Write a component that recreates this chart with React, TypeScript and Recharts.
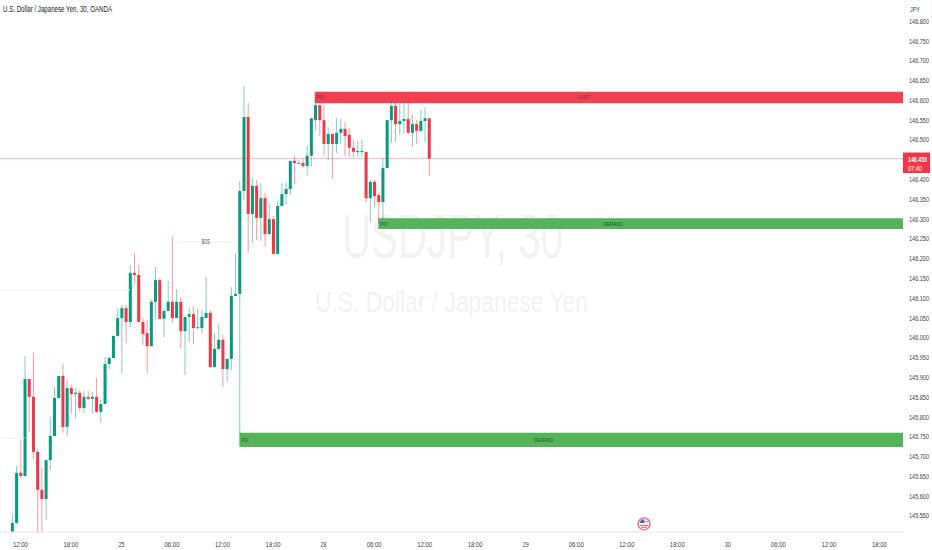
import {
  ComposedChart,
  Bar,
  XAxis,
  YAxis,
  ReferenceArea,
  ReferenceLine,
  ReferenceDot
} from 'recharts';

const FONT = '"Liberation Sans", sans-serif';
const UP = '#089981';
const DOWN = '#f23645';
const TEXT = '#3a3e49';

const opens = [
  145.499, 145.532, 145.659, 145.651, 145.896, 145.851, 145.712, 145.616, 145.593, 145.691,
  145.752, 145.848, 145.904, 145.775, 145.873, 145.858, 145.861, 145.823, 145.851, 145.846,
  145.851, 145.813, 145.833, 145.934, 145.949, 146.005, 146.050, 146.075, 146.040, 146.164,
  146.159, 146.040, 146.012, 145.979, 146.091, 146.146, 146.048, 146.068, 146.091, 146.050,
  146.091, 146.017, 146.053, 146.060, 146.025, 146.025, 146.050, 146.063, 145.926, 145.972,
  145.995, 145.921, 145.947, 146.106, 146.111, 146.371, 146.558, 146.313, 146.384, 146.303,
  146.353, 146.262, 146.300, 146.212, 146.333, 146.363, 146.376, 146.447, 146.441, 146.442,
  146.434, 146.460, 146.550, 146.588, 146.550, 146.490, 146.515, 146.490, 146.518, 146.528,
  146.513, 146.480, 146.470, 146.470, 146.470, 146.353, 146.394, 146.361, 146.343, 146.429,
  146.550, 146.586, 146.540, 146.548, 146.553, 146.518, 146.540, 146.523, 146.548, 146.555
];
const highs = [
  145.555, 145.676, 145.742, 145.954, 145.896, 145.962, 145.719, 145.671, 145.691, 145.800,
  145.876, 145.904, 145.936, 145.894, 145.881, 145.873, 145.868, 145.866, 145.866, 145.863,
  145.899, 145.843, 145.952, 145.952, 146.005, 146.075, 146.083, 146.083, 146.184, 146.214,
  146.184, 146.050, 146.045, 146.096, 146.179, 146.151, 146.075, 146.144, 146.257, 146.123,
  146.103, 146.053, 146.078, 146.080, 146.075, 146.070, 146.154, 146.070, 146.012, 146.035,
  146.007, 145.947, 146.128, 146.214, 146.396, 146.636, 146.593, 146.404, 146.399, 146.391,
  146.366, 146.341, 146.308, 146.346, 146.391, 146.394, 146.447, 146.460, 146.449, 146.452,
  146.485, 146.555, 146.601, 146.588, 146.588, 146.533, 146.515, 146.555, 146.553, 146.545,
  146.530, 146.500, 146.497, 146.500, 146.470, 146.399, 146.399, 146.366, 146.454, 146.550,
  146.601, 146.601, 146.593, 146.601, 146.601, 146.566, 146.550, 146.576, 146.583, 146.555
];
const lows = [
  145.477, 145.530, 145.646, 145.651, 145.762, 145.694, 145.489, 145.489, 145.540, 145.666,
  145.752, 145.848, 145.760, 145.752, 145.808, 145.798, 145.813, 145.810, 145.843, 145.808,
  145.810, 145.785, 145.833, 145.921, 145.949, 146.002, 145.911, 145.987, 146.027, 146.139,
  146.040, 145.982, 145.911, 145.979, 146.050, 146.048, 146.002, 146.068, 146.038, 146.050,
  145.974, 145.906, 145.990, 145.984, 146.022, 146.012, 146.050, 145.926, 145.926, 145.969,
  145.876, 145.888, 145.919, 146.106, 145.757, 146.348, 146.214, 146.240, 146.247, 146.245,
  146.230, 146.262, 146.212, 146.209, 146.333, 146.336, 146.361, 146.389, 146.439, 146.429,
  146.411, 146.434, 146.523, 146.510, 146.460, 146.449, 146.401, 146.467, 146.490, 146.460,
  146.457, 146.457, 146.457, 146.457, 146.343, 146.293, 146.331, 146.288, 146.298, 146.429,
  146.492, 146.495, 146.513, 146.515, 146.513, 146.482, 146.490, 146.520, 146.495, 146.409
];
const closes = [
  145.532, 145.659, 145.651, 145.896, 145.851, 145.712, 145.616, 145.593, 145.691, 145.752,
  145.848, 145.904, 145.775, 145.873, 145.858, 145.861, 145.823, 145.851, 145.846, 145.851,
  145.813, 145.833, 145.934, 145.949, 146.005, 146.050, 146.075, 146.040, 146.164, 146.159,
  146.040, 146.010, 145.979, 146.091, 146.146, 146.048, 146.068, 146.091, 146.050, 146.091,
  146.017, 146.053, 146.060, 146.025, 146.027, 146.053, 146.063, 145.926, 145.972, 145.995,
  145.921, 145.947, 146.106, 146.111, 146.371, 146.558, 146.313, 146.384, 146.303, 146.353,
  146.262, 146.300, 146.212, 146.333, 146.363, 146.376, 146.447, 146.442, 146.442, 146.434,
  146.460, 146.555, 146.588, 146.550, 146.490, 146.515, 146.490, 146.518, 146.528, 146.510,
  146.480, 146.470, 146.472, 146.472, 146.353, 146.394, 146.358, 146.343, 146.429, 146.550,
  146.586, 146.540, 146.548, 146.553, 146.518, 146.540, 146.523, 146.548, 146.555, 146.453
];

const priceTicks = [
  146.8, 146.75, 146.7, 146.65, 146.6, 146.55, 146.5, 146.4, 146.35, 146.3, 146.25, 146.2,
  146.15, 146.1, 146.05, 146.0, 145.95, 145.9, 145.85, 145.8, 145.75, 145.7, 145.65, 145.6, 145.55
];
const timePositions = [2, 14, 26, 38, 50, 62, 74, 86, 98, 110, 122, 134, 146, 158, 170, 182, 194, 206];
const timeLabels = [
  '12:00', '18:00', '25', '06:00', '12:00', '18:00', '28', '06:00', '12:00', '18:00',
  '29', '06:00', '12:00', '18:00', '30', '06:00', '12:00', '18:00'
];

const lastPrice = 146.453;

const chartData = opens.map((open, i) => ({
  i,
  open,
  close: closes[i],
  high: highs[i],
  low: lows[i],
  range: [lows[i], highs[i]]
}));

const Candle = (props: any) => {
  const { x, y, width, height, payload } = props;
  const { open, close, high, low } = payload;
  const color = close >= open ? UP : DOWN;
  const perUnit = height / (high - low);
  const top = y + (high - Math.max(open, close)) * perUnit;
  const bodyH = Math.max(Math.abs(open - close) * perUnit, 1);
  const cx = x + width / 2;
  return (
    <g>
      <line x1={cx} x2={cx} y1={y} y2={y + height} stroke={color} strokeOpacity={0.5} strokeWidth={1} />
      <rect x={x} y={top} width={width} height={bodyH} fill={color} />
    </g>
  );
};

// the reference text is squeezed sideways, no narrow font is installed so textLength does it
const PriceTick = ({ x, y, payload }: any) => (
  <text x={x} y={y + 2.5} fontFamily={FONT} fontSize={7.5} fill={TEXT} textLength={20} lengthAdjust="spacingAndGlyphs">
    {payload.value.toFixed(3)}
  </text>
);

const TimeTick = ({ x, y, payload }: any) => {
  const label = timeLabels[timePositions.indexOf(payload.value)];
  return (
    <text x={x} y={y + 7} textAnchor="middle" fontFamily={FONT} fontSize={7.5} fill={TEXT} textLength={label.length > 2 ? 15 : 6} lengthAdjust="spacingAndGlyphs">
      {label}
    </text>
  );
};

const ZoneText = ({ viewBox, left, mid, midWidth, fill }: any) => {
  if (!viewBox) return null;
  const y = viewBox.y + viewBox.height / 2 + 2;
  return (
    <g fontFamily={FONT} fontSize={6} fill={fill}>
      <text x={viewBox.x + 2} y={y} textLength={7} lengthAdjust="spacingAndGlyphs">{left}</text>
      <text x={viewBox.x + viewBox.width / 2 - 18 - midWidth} y={y} textLength={midWidth} lengthAdjust="spacingAndGlyphs">{mid}</text>
    </g>
  );
};

const PriceTag = ({ viewBox }: any) => {
  if (!viewBox) return null;
  const left = viewBox.x + viewBox.width;
  return (
    <g fontFamily={FONT}>
      <rect x={left} y={viewBox.y - 6} width={27} height={20.5} fill={DOWN} />
      <text x={left + 5} y={viewBox.y + 3} fontSize={7.5} fontWeight="bold" fill="#fff" textLength={19} lengthAdjust="spacingAndGlyphs">146.453</text>
      <text x={left + 5} y={viewBox.y + 12} fontSize={7.5} fill="#fff" textLength={14} lengthAdjust="spacingAndGlyphs">07:40</text>
    </g>
  );
};

const FlagDot = ({ cx, cy }: any) => (
  <g>
    <circle cx={cx} cy={cy} r={6} fill="#fff" stroke="#ef6a75" strokeWidth={1.4} />
    <path d={`M${cx - 4.5} ${cy - 1} A4.6 4.6 0 0 1 ${cx} ${cy - 4.6} L${cx + 0.5} ${cy - 1} Z`} fill="#3f6fc4" />
    <rect x={cx - 4.2} y={cy + 1} width={8.4} height={1.2} fill="#ef6a75" />
    <rect x={cx - 3} y={cy + 3} width={6} height={1} fill="#ef6a75" />
    <rect x={cx + 0.5} y={cy - 3} width={4} height={1} fill="#ef6a75" />
  </g>
);

export default function App() {
  return (
    <div style={{ position: 'absolute', left: 0, top: 0, width: 932, height: 550, overflow: 'hidden', background: '#fff' }}>
      <svg width={932} height={550} style={{ position: 'absolute', left: 0, top: 0 }} fontFamily={FONT} fill="#f1f2f3">
        <text x={342} y={258} fontSize={63} textLength={221} lengthAdjust="spacingAndGlyphs">USDJPY, 30</text>
        <text x={315} y={312} fontSize={30} textLength={273} lengthAdjust="spacingAndGlyphs">U.S. Dollar / Japanese Yen</text>
      </svg>
      <div style={{ position: 'absolute', left: 0, top: 0 }}>
        <ComposedChart width={932} height={550} data={chartData} margin={{ top: 0, right: 0, bottom: 0, left: 0 }}>
          <XAxis
            dataKey="i"
            type="number"
            domain={[-2.85, 211.6]}
            allowDataOverflow
            ticks={timePositions}
            interval={0}
            height={18}
            tickLine={false}
            tickMargin={2}
            axisLine={{ stroke: '#e0e3eb' }}
            tick={<TimeTick />}
          />
          <YAxis
            orientation="right"
            type="number"
            domain={[145.5095, 146.8536]}
            allowDataOverflow
            ticks={priceTicks}
            interval={0}
            width={29}
            axisLine={false}
            tickLine={false}
            tickMargin={0}
            tick={<PriceTick />}
          />
          <ReferenceLine
            segment={[{ x: -2.85, y: 146.121 }, { x: 28, y: 146.121 }]}
            stroke="#eceef1"
          />
          <ReferenceLine
            segment={[{ x: -2.85, y: 145.747 }, { x: 3, y: 145.747 }]}
            stroke="#eceef1"
          />
          <ReferenceLine
            segment={[{ x: 39.2, y: 146.242 }, { x: 53, y: 146.242 }]}
            stroke="#f0f1f3"
          />
          <ReferenceDot
            x={46}
            y={146.242}
            r={0}
            shape={(p: any) => (
              <g>
                <rect x={p.cx - 5} y={p.cy - 3} width={10} height={6} fill="#fff" />
                <text x={p.cx - 4} y={p.cy + 2} fontSize={6.5} fontFamily={FONT} fill={TEXT} textLength={8} lengthAdjust="spacingAndGlyphs">BOS</text>
              </g>
            )}
          />
          <ReferenceLine
            y={lastPrice}
            stroke={DOWN}
            strokeOpacity={0.35}
            label={(p: any) => <PriceTag {...p} />}
          />
          <Bar dataKey="range" barSize={3} shape={<Candle />} isAnimationActive={false} />
          <ReferenceArea
            x1={71.9}
            x2={211.6}
            y1={146.622}
            y2={146.593}
            fill={DOWN}
            fillOpacity={0.95}
            stroke="none"
            label={(p: any) => <ZoneText {...p} left="POI" mid="LIQUIDITY" midWidth={13} fill="#8a2a38" />}
          />
          <ReferenceArea
            x1={87}
            x2={211.6}
            y1={146.302}
            y2={146.275}
            fill="#4caf50"
            fillOpacity={0.95}
            stroke="none"
            label={(p: any) => <ZoneText {...p} left="POI" mid="DEMAND" midWidth={19} fill="#1e5a2a" />}
          />
          <ReferenceArea
            x1={54}
            x2={211.6}
            y1={145.760}
            y2={145.724}
            fill="#4caf50"
            fillOpacity={0.95}
            stroke="none"
            label={(p: any) => <ZoneText {...p} left="POI" mid="DEMAND" midWidth={19} fill="#1e5a2a" />}
          />
          <ReferenceDot x={150.1} y={145.53} r={6} shape={<FlagDot />} />
        </ComposedChart>
      </div>
      <svg width={932} height={20} style={{ position: 'absolute', left: 0, top: 0 }} fontFamily={FONT}>
        <text x={3} y={12} fontSize={8.5} fill="#131722" textLength={109} lengthAdjust="spacingAndGlyphs">U.S. Dollar / Japanese Yen, 30, OANDA</text>
        <rect x={905} y={0} width={27} height={17} fill="#fff" stroke="#f0f1f3" />
        <text x={910} y={12} fontSize={7.5} fill={TEXT} textLength={10} lengthAdjust="spacingAndGlyphs">JPY</text>
      </svg>
    </div>
  );
}
